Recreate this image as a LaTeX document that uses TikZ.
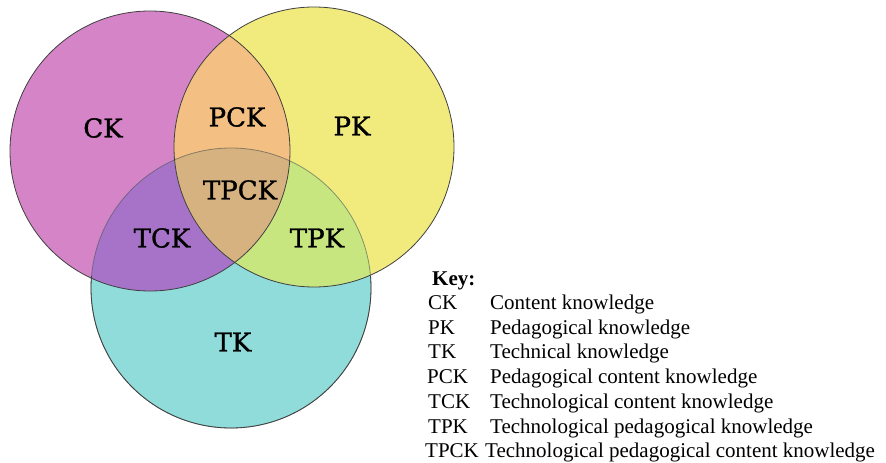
\documentclass[tikz,border=0pt]{standalone}
\usepackage{fontspec}
\setmainfont{Liberation Serif}
\newfontfamily\setfont[FakeBold=1.2]{DejaVu Serif}
\usepackage{tikz}

\definecolor{ckfill}{RGB}{214,132,200}
\definecolor{pkfill}{RGB}{241,234,124}
\definecolor{tkfill}{RGB}{143,220,218}
\definecolor{pckfill}{RGB}{243,191,130}
\definecolor{tckfill}{RGB}{167,115,200}
\definecolor{tpkfill}{RGB}{200,230,128}
\definecolor{tpckfill}{RGB}{214,178,128}

\tikzset{
  setlabel/.style={font=\setfont\fontsize{26}{30}\selectfont},
  keyrow/.style={anchor=base west,inner sep=0pt,font=\fontsize{21}{24}\selectfont},
  rim/.style={draw=black!75,line width=0.8pt}
}

\begin{document}
\begin{tikzpicture}[x=1pt,y=-1pt]
\useasboundingbox (0,0) rectangle (886,463);
\coordinate (C) at (150,151);
\coordinate (P) at (314,147);
\coordinate (T) at (231,288);
%\coordinate (CP) at (230,34);
\fill[ckfill] (C) circle[radius=140pt];
\fill[pkfill] (P) circle[radius=140pt];
\fill[tkfill] (T) circle[radius=140pt];
\begin{scope}
	\clip (C) circle[radius=140pt];
	\fill[pckfill] (P) circle[radius=140pt];
	\fill[tckfill] (T) circle[radius=140pt];
\end{scope}
\begin{scope}
	\clip (P) circle[radius=140pt];
	\fill[tpkfill] (T) circle[radius=140pt];
\end{scope}
% the tpck part again, the tpk fill went over it
\begin{scope}
	\clip (C) circle[radius=140pt];
	\clip (P) circle[radius=140pt];
	\fill[tpckfill] (T) circle[radius=140pt];
\end{scope}
\draw[rim,draw opacity=0.5] (T) circle[radius=140pt];
\begin{scope}
	\clip (0,276) rectangle (886,463);
	\draw[rim] (T) circle[radius=140pt];
\end{scope}
\draw[rim] (C) circle[radius=140pt];
\draw[rim] (P) circle[radius=140pt];

\node[setlabel] (ck) at (103,128) {CK};
\node[setlabel] (pk) at (352,126) {PK};
\node[setlabel] (tk) at (233,342) {TK};
\node[setlabel] (pck) at (237,117) {PCK};
\node[setlabel] (tck) at (162,238) {TCK};
\node[setlabel] (tpk) at (317,238) {TPK};
\node[setlabel] (tpck) at (240,190) {TPCK};

\begin{scope}
	\node[keyrow] (key) at (432,285) {\textbf{Key:}};
	\node[keyrow] (kck) at (428,309) {CK};
	\node[keyrow] (dck) at (490,309) {Content knowledge};
	\node[keyrow] (kpk) at (428,334) {PK};
	\node[keyrow] (dpk) at (490,334) {Pedagogical knowledge};
	\node[keyrow] (ktk) at (428,358) {TK};
	\node[keyrow] (dtk) at (490,358) {Technical knowledge};
	\node[keyrow] (kpck) at (427,383) {PCK};
	\node[keyrow] (dpck) at (490,383) {Pedagogical content knowledge};
	\node[keyrow] (ktck) at (428,408) {TCK};
	\node[keyrow] (dtck) at (490,408) {Technological content knowledge};
	\node[keyrow] (ktpk) at (428,433) {TPK};
	\node[keyrow] (dtpk) at (490,433) {Technological pedagogical knowledge};
	\node[keyrow] (ktpck) at (425,457) {TPCK};
	\node[keyrow] (dtpck) at (485,457) {Technological pedagogical content knowledge};
\end{scope}
\end{tikzpicture}
\end{document}
